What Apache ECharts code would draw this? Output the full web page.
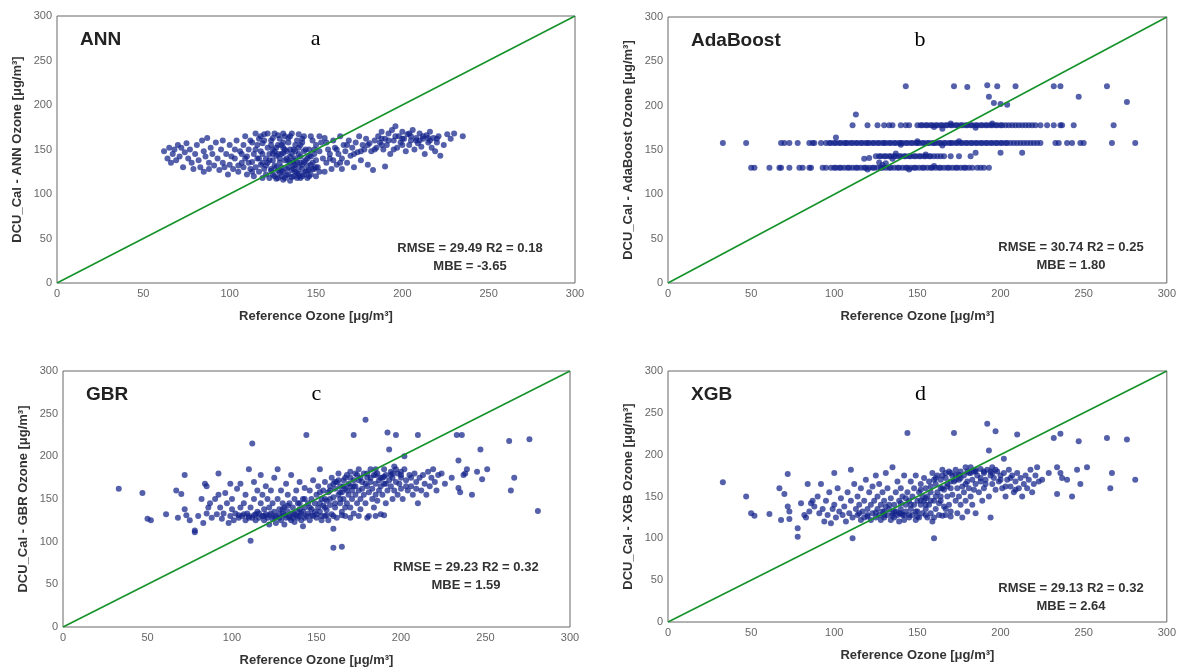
<!DOCTYPE html>
<html>
<head>
<meta charset="utf-8">
<script src="https://cdn.jsdelivr.net/npm/echarts@6/dist/echarts.min.js"></script>
<style>
html,body{margin:0;padding:0;background:#fff;}
#main{width:1179px;height:668px;}
</style>
</head>
<body>
<div id="main"></div>
<script>
var ticks = [0, 50, 100, 150, 200, 250, 300];
var oneToOne = [[0, 0], [300, 300]];

// ANN: reference vs calibrated
var annPoints = [
[62,148],[64,140],[65,152],[66,135],[67,145],[68,150],[69,138],[70,155],[71,142],[72,152],[73,130],[74,147],[75,157],[76,140],[77,150],[78,135],[79,128],[80,145],[81,155],[82,138],[83,130],[84,160],[85,148],[85,125],[86,142],[87,163],[88,135],[88,128],[89,152],[90,145],[91,132],[92,158],[93,140],[94,127],[95,150],[96,135],[96,160],[97,130],[98,145],[99,122],[100,155],[100,133],
[102,128],[103,140],[104,160],[105,125],[106,148],[107,135],[108,155],[108,130],[109,165],[110,122],[110,142],[111,150],[112,128],[112,160],[113,136],[114,145],[114,120],[115,168],[115,130],[116,155],[116,140],[117,125],[117,162],[118,133],[118,148],[119,118],[119,157],[120,128],[120,167],[121,140],[121,122],[122,152],[122,135],[123,145],[123,118],[124,160],[124,128],[125,138],[125,150],[125,122],[126,168],[126,132],[127,143],[127,117],[128,155],[128,126],[129,135],[129,162],[130,120],[130,145],[130,130],[131,152],[131,125],[132,138],[132,165],[132,118],[133,128],[133,148],[134,122],[134,158],[135,135],[135,115],[135,142],[136,127],[136,168],[137,132],[137,150],[137,120],[138,125],[138,140],[139,160],[139,118],[140,130],[140,145],[140,123],[141,155],[141,135],[142,120],[142,128],[143,148],[143,165],[144,125],[144,138],[145,118],[145,132],[146,150],[146,127],[147,142],[147,122],[148,160],[148,135],[149,128],[149,145],[150,120],[150,155],[150,138],
[126,120],[128,118],[131,116],[133,121],[136,119],[139,124],[141,118],[143,122],[127,130],[130,126],[134,130],[138,133],[142,133],[124,126],[129,124],[137,128],[140,120],[145,126],[146,120],[118,165],[122,168],[128,166],[134,163],[140,167],[113,158],[119,145],[131,158],[138,155],
[121,132],[123,138],[125,145],[127,152],[129,140],[131,146],[133,140],[135,150],[137,138],[139,136],[141,142],[143,136],[145,140],[147,133],[149,150],[124,155],[126,148],[128,145],[130,155],[132,150],[134,137],[136,145],[138,148],[140,152],[142,158],[144,150],[146,143],[148,128],[150,130],[152,125],[119,135],[117,140],[115,150],[113,125],[111,135],[109,140],[107,145],[105,132],[103,150],[101,142],[131,168],[135,165],[125,163],[120,160],[142,162],[147,165],[152,165],[156,158],[158,140],[162,150],[164,135],[168,155],[172,145],[176,148],[180,155],[184,150],[188,162],[192,160],[196,165],[200,162],[204,168],[208,160],[212,165],[216,160],[220,162],
[151,130],[152,148],[153,158],[154,140],[155,125],[155,163],[156,135],[157,150],[158,145],[159,128],[160,160],[160,138],[161,152],[162,133],[163,145],[164,165],[165,140],[165,128],[166,155],[167,148],[168,135],[169,160],[170,143],[171,152],[172,130],[173,158],[174,147],[175,165],[176,138],[177,155],[178,150],[179,162],[180,133],[181,157],[182,148],[183,127],[184,160],[185,152],[190,131],
[186,165],[187,158],[188,170],[189,150],[190,162],[191,155],[192,168],[193,145],[194,172],[195,160],[196,176],[197,152],[198,165],[199,158],[200,170],[201,162],[202,148],[203,167],[204,155],[205,160],[206,172],[207,150],[208,163],[209,157],[210,168],[211,153],[212,162],[213,145],[214,166],[215,158],[216,170],[217,152],[218,163],[219,148],[220,158],[221,165],[222,143],[224,155],[226,167],[228,162],[230,168],[235,165],[188,155],[195,150],[205,165],[215,163],[200,155],[210,160]
];

// AdaBoost: predictions fall on a few levels
var adaLevel130X = [50,52,61,67,68,73,79,81,85,86,93,95,98,100,101,103,104,106,108,109,111,113,114,116,118,119,121,123,124,126,128,129,131,133,134,136,138,139,141,143,144,146,148,149,151,153,154,156,158,159,161,163,164,166,168,169,171,173,174,176,178,179,181,183,186,188,190,193];
var adaLevel143X = [125,127,128,130,131,133,134,136,137,139,140,142,143,145,146,148,149,151,152,154,155,157,158,160,162,164,166,170,175,182];
var adaLevel158X = [33,47,68,70,73,78,85,87,88,92,95,97,98,100,101,103,104,106,107,108,110,111,113,114,116,117,119,120,121,123,124,126,127,129,130,131,133,134,136,137,139,140,141,143,144,146,147,149,150,151,153,154,156,157,159,160,161,163,164,166,167,169,170,171,173,174,176,177,179,180,182,183,185,186,188,189,191,192,194,195,197,198,200,201,203,204,206,208,210,212,214,216,218,220,222,224,233,235,240,243,248,250,267,281];
var adaLevel178X = [111,120,126,130,133,135,140,143,145,150,152,153,155,156,158,159,161,162,164,165,167,168,170,171,173,174,176,177,179,180,182,183,185,186,188,189,191,192,194,195,197,198,200,201,203,205,207,209,211,213,215,217,219,221,224,228,232,236,237,244,268];
var adaOther = [[143,222],[172,222],[180,221],[192,223],[198,222],[209,222],[232,222],[236,222],[264,222],[193,210],[247,210],[196,203],[200,202],[204,201],[276,204],[113,190],[101,164],[185,147],[200,147],[213,147],[118,140],[121,141],[127,136],[129,133],[131,135],[137,146],[150,160],[165,155],[140,156],[175,160],[160,176],[170,180],[185,175],[195,180],[145,128],[160,132],[120,128],[135,140],[155,145],[165,174]];

// GBR
var gbrPoints = [
[33,162],[47,157],[50,127],[52,125],[61,132],[67,160],[68,128],[70,156],[72,178],[72,138],[73,131],[75,125],[78,113],[78,111],[80,130],[82,150],[83,122],[84,168],[85,165],[85,133],[86,140],[87,145],[88,128],[90,150],[91,132],[92,180],[92,155],[93,140],[94,127],[95,133],[96,157],[97,145],[98,122],[99,130],[99,168],[100,138],[100,150],
[101,125],[102,133],[103,162],[104,128],[105,140],[105,168],[106,130],[107,145],[108,125],[108,155],[109,133],[110,130],[110,185],[111,101],[111,140],[112,128],[112,215],[113,150],[113,170],[114,132],[114,125],[115,160],[115,135],[116,128],[117,145],[117,178],[118,130],[118,155],[119,125],[119,138],[120,165],[120,132],[121,128],[121,150],[122,140],[122,120],[123,133],[123,160],[124,127],[124,145],[125,135],[125,175],[126,130],[126,122],[127,150],[127,185],[128,138],[128,128],[129,160],[129,125],[130,133],[130,145],[131,140],[131,120],[132,128],[132,168],[133,135],[133,155],[134,130],[134,145],[135,125],[135,178],[136,140],[136,133],[137,150],[137,123],[138,130],[138,160],[139,145],[139,128],[140,138],[140,170],[141,133],[141,125],[142,150],[142,118],[143,140],[143,163],[144,130],[144,225],[145,145],[145,133],
[146,160],[146,125],[147,150],[147,138],[148,172],[148,130],[149,145],[150,155],[150,128],[151,140],[151,165],[152,135],[152,185],[153,150],[153,125],[154,160],[154,142],[155,130],[155,170],[156,148],[156,137],[157,158],[157,125],[158,165],[158,143],[159,175],[159,132],[160,152],[160,115],[160,93],[161,162],[161,140],[162,170],[162,128],[163,155],[163,180],[164,145],[164,165],[165,135],[165,158],[165,94],[166,172],[166,150],[167,162],[167,130],[168,178],[168,145],[169,155],[169,168],[170,140],[170,182],[171,160],[171,150],[172,133],[172,225],[172,172],[173,165],[173,155],[174,145],[174,178],[175,160],[175,185],[176,150],[176,138],[177,170],[177,162],[178,180],[178,155],[179,145],[179,243],[180,175],[180,165],[181,130],[181,158],[182,185],[182,170],[183,150],[183,162],[184,178],[184,140],[185,168],[185,155],[186,180],[186,148],[187,172],[187,160],[188,132],[188,165],[189,175],[189,155],[190,185],[190,168],[191,145],[191,178],[192,160],[192,228],[193,208],[193,172],[194,165],[194,182],[195,150],[195,175],[196,188],[196,160],[197,225],[197,170],[198,180],[198,155],[199,168],[200,175],[200,162],[201,150],[202,185],[202,200],[203,172],[204,160],[205,178],[206,165],[207,155],[208,180],[209,170],[210,225],[210,145],[211,175],[212,160],[213,178],[214,168],[215,155],
[216,182],[217,165],[218,175],[219,185],[220,170],[221,160],[222,178],[224,180],[226,168],[230,175],[233,225],[234,195],[234,163],[235,158],[236,225],[237,178],[238,180],[239,185],[242,155],[245,182],[247,208],[248,173],[251,185],[264,218],[265,160],[267,175],[276,220],[281,136],
[104,131],[107,132],[110,128],[113,131],[116,133],[119,130],[122,131],[125,129],[128,132],[131,131],[134,128],[137,132],[140,130],[143,128],[147,131],[150,132],[153,130],[156,131],[160,130],[165,131],[170,128],[175,130],[180,128],[185,130],[190,131],[160,168],[163,172],[166,165],[170,175],[175,172],[180,180],[185,178],[190,176],[195,180],[200,182],[168,160],[172,165],
[152,158],[155,150],[158,160],[161,170],[164,158],[167,175],[170,165],[173,180],[176,175],[179,168],[182,175],[185,185],[188,175],[191,168],[194,178],[197,185],[200,178],[203,165],[206,175],[209,162],[140,145],[143,150],[146,140],[149,135],[152,145],[155,140],[158,150],[161,145],[164,150],[167,140],[130,138],[133,142],[136,128],[139,135],[142,135]
];

// XGB
var xgbPoints = [
[33,167],[47,150],[50,130],[52,127],[61,129],[67,160],[68,122],[70,153],[72,177],[72,138],[73,132],[73,123],[78,112],[78,102],[80,142],[82,128],[83,125],[84,165],[85,132],[86,142],[87,145],[88,138],[90,150],[91,130],[92,165],[93,135],[94,120],[95,145],[96,128],[97,155],[98,118],[99,135],[100,178],[100,140],
[101,125],[102,160],[103,132],[104,148],[105,128],[106,138],[107,120],[108,155],[109,130],[110,145],[110,182],[111,100],[111,125],[112,165],[113,135],[114,128],[114,150],[115,140],[116,122],[116,160],[117,132],[118,145],[118,125],[119,170],[120,135],[120,128],[121,155],[122,140],[122,122],[123,130],[123,162],[124,145],[125,125],[125,175],[126,135],[126,150],[127,128],[127,165],[128,140],[128,122],[129,132],[129,155],[130,145],[130,125],[131,138],[131,178],[132,128],[132,160],[133,135],[134,148],[134,122],[135,130],[135,185],[136,140],[136,125],[137,155],[137,132],[138,128],[138,168],[139,145],[139,120],[140,135],[140,160],[141,128],[141,150],[142,122],[142,175],[143,140],[143,132],[144,226],[144,155],[145,125],[145,145],
[146,135],[146,168],[147,150],[147,128],[148,160],[148,140],[149,122],[149,175],[150,145],[150,132],[151,155],[151,125],[152,165],[152,140],[153,150],[153,130],[154,172],[154,145],[155,135],[155,160],[156,125],[156,150],[157,168],[157,140],[158,155],[158,130],[159,178],[159,120],[160,145],[160,100],[161,165],[161,135],[162,155],[162,175],[163,142],[163,128],[164,170],[164,150],[165,160],[165,182],[166,138],[166,158],[167,172],[167,128],[168,150],[168,165],[169,180],[169,140],[170,160],[170,132],[171,175],[171,152],[172,226],[172,168],[173,145],[173,182],[174,160],[174,130],[175,170],[175,150],[176,180],[176,140],[177,162],[177,125],[178,175],[178,155],[179,185],[179,145],[180,168],[180,132],[181,178],[181,160],[182,150],[182,185],[183,170],[183,140],[184,180],[184,158],[185,165],[185,130],[186,175],[187,155],[188,183],[188,168],[189,145],[190,178],[190,160],[191,170],[192,237],[192,182],[193,150],[193,205],[194,175],[194,125],[195,165],[195,185],[196,172],[197,158],[197,228],[198,180],[199,168],[200,175],[201,160],[202,195],[202,178],[203,150],[204,170],[205,182],[206,162],[207,175],[208,155],[209,168],[210,224],[210,178],[211,160],[212,172],[213,150],[214,165],[215,175],
[216,160],[217,170],[218,182],[219,155],[220,165],[221,175],[222,185],[223,168],[225,170],[229,178],[232,220],[234,185],[234,153],[236,225],[236,178],[237,172],[240,170],[243,150],[246,182],[247,216],[248,165],[252,185],[264,220],[266,160],[267,178],[276,218],[281,170],
[115,130],[120,126],[125,131],[130,128],[135,127],[140,130],[145,128],[150,126],[155,128],[160,125],[165,127],[170,126],[160,170],[165,175],[170,178],[175,176],[180,180],[185,182],[190,180],[195,178],[168,162],[173,170],
[152,158],[155,148],[158,162],[161,172],[164,160],[167,178],[170,168],[173,176],[176,172],[179,165],[182,178],[185,180],[188,172],[191,165],[194,180],[197,182],[200,170],[203,162],[206,172],[209,158],[140,142],[143,148],[146,140],[149,132],[152,145],[155,140],[158,145],[161,150],[164,145],[167,135],[130,132],[133,140],[136,132],[139,130],[142,128]
];

var panels = [
  {name: 'ANN', letter: 'a', data: annPoints, box: [57, 16, 518, 267], stats: [470, 248], rmse: 'RMSE = 29.49 R2 = 0.18', mbe: 'MBE = -3.65'},
  {name: 'AdaBoost', letter: 'b', data: null, box: [668, 17, 503, 266], stats: [1071, 247], rmse: 'RMSE = 30.74 R2 = 0.25', mbe: 'MBE = 1.80'},
  {name: 'GBR', letter: 'c', data: gbrPoints, box: [63, 371, 507, 256], stats: [466, 567], rmse: 'RMSE = 29.23 R2 = 0.32', mbe: 'MBE = 1.59'},
  {name: 'XGB', letter: 'd', data: xgbPoints, box: [668, 371, 504, 251], stats: [1071, 588], rmse: 'RMSE = 29.13 R2 = 0.32', mbe: 'MBE = 2.64'}
];

function level(xs, y){
  var out = [];
  for (var i = 0; i < xs.length; i++) out.push([xs[i], y]);
  return out;
}
panels[1].data = [].concat(level(adaLevel130X, 130), level(adaLevel143X, 143), level(adaLevel158X, 158), level(adaLevel178X, 178), adaOther);

var grid = [], xAxis = [], yAxis = [], series = [], graphic = [];
var nameStyle = {color: '#333', fontSize: 13, fontWeight: 'bold', fontFamily: 'Liberation Sans'};

panels.forEach(function(p, i){
  var b = p.box;
  grid.push({left: b[0], top: b[1], width: b[2], height: b[3], show: true, borderColor: '#666', borderWidth: 1, backgroundColor: '#fff'});
  xAxis.push({
    type: 'value', gridIndex: i, min: 0, max: 300, interval: 50,
    name: 'Reference Ozone [μg/m³]', nameLocation: 'middle', nameGap: 27, nameTextStyle: nameStyle,
    axisLine: {show: false}, axisTick: {show: false}, splitLine: {show: false},
    axisLabel: {margin: 5, color: '#666', fontSize: 11, fontFamily: 'Liberation Sans'}
  });
  yAxis.push({
    type: 'value', gridIndex: i, min: 0, max: 300, interval: 50,
    name: 'DCU_Cal - ' + p.name + ' Ozone [μg/m³]', nameLocation: 'middle', nameGap: 33, nameTextStyle: nameStyle,
    axisLine: {show: false}, axisTick: {show: false}, splitLine: {show: false},
    axisLabel: {margin: 5, color: '#666', fontSize: 11, fontFamily: 'Liberation Sans'}
  });
  series.push({
    type: 'scatter', xAxisIndex: i, yAxisIndex: i, data: p.data, symbolSize: 6,
    itemStyle: {color: '#13238a', opacity: 0.72}, silent: true
  });
  series.push({
    type: 'line', xAxisIndex: i, yAxisIndex: i, data: oneToOne, symbol: 'none',
    lineStyle: {color: '#15922a', width: 1.6}, silent: true, z: 3
  });
  graphic.push({type: 'text', left: b[0] + 23, top: b[1] + 14,
    style: {text: p.name, fill: '#222', font: 'bold 19px "Liberation Sans"'}});
  graphic.push({type: 'text', left: b[0] + b[2] * 0.49, top: b[1] + 12,
    style: {text: p.letter, fill: '#000', font: '22px "Liberation Serif"'}});
  graphic.push({type: 'text', x: p.stats[0], y: p.stats[1],
    style: {text: p.rmse, fill: '#333', font: 'bold 13px "Liberation Sans"', align: 'center', verticalAlign: 'middle'}});
  graphic.push({type: 'text', x: p.stats[0], y: p.stats[1] + 18,
    style: {text: p.mbe, fill: '#333', font: 'bold 13px "Liberation Sans"', align: 'center', verticalAlign: 'middle'}});
});

var myChart = echarts.init(document.getElementById('main'));
myChart.setOption({
  animation: false,
  grid: grid,
  xAxis: xAxis,
  yAxis: yAxis,
  series: series,
  graphic: graphic
});
</script>
</body>
</html>
